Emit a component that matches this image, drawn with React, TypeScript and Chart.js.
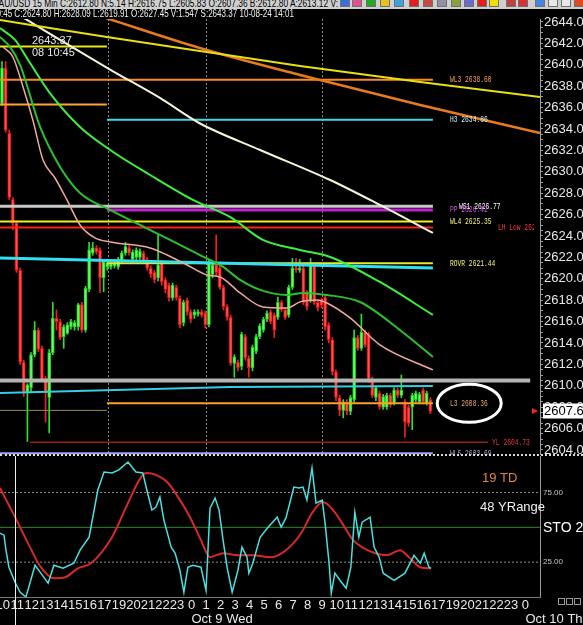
import React, { useEffect, useRef } from "react";
import { Chart, registerables } from "chart.js";

Chart.register(...registerables);

// ---------------- 15-minute XAU/USD bars (bar 0 = Oct 8, 10:00) ----------------
const barOpen = [
  2636.4, 2639.7, 2633.6, 2627.4, 2625.2, 2620.8, 2612.2, 2609.4, 2609.8, 2612.9,
  2615.2, 2613.5, 2610.7, 2608.9, 2613.1, 2616.3, 2616.0, 2614.6, 2614.9, 2615.5,
  2615.5, 2615.5, 2617.6, 2615.2, 2619.0, 2622.4, 2622.9, 2622.7, 2620.1, 2621.1,
  2621.1, 2621.2, 2621.1, 2621.6, 2622.4, 2622.9, 2621.8, 2622.0, 2622.0, 2622.4,
  2621.8, 2621.0, 2620.6, 2620.1, 2621.5, 2619.9, 2619.4, 2618.2, 2619.2, 2618.2,
  2615.9, 2618.0, 2616.9, 2616.6, 2616.7, 2616.9, 2616.8, 2615.7, 2620.4, 2621.3,
  2621.0, 2619.2, 2617.4, 2616.4, 2612.1, 2612.2, 2611.8, 2614.6, 2612.6, 2611.7,
  2613.2, 2614.6, 2615.2, 2616.2, 2616.9, 2616.6, 2616.4, 2617.8, 2617.1, 2616.6,
  2619.2, 2621.0, 2620.8, 2621.0, 2618.7, 2618.0, 2621.3, 2617.8, 2618.0, 2618.3,
  2615.7, 2614.3, 2611.3, 2608.9, 2607.7, 2608.5, 2607.6, 2608.7, 2614.5, 2613.5,
  2615.0, 2614.8, 2610.6, 2608.9, 2609.3, 2608.0, 2608.0, 2609.1, 2608.4, 2609.6,
  2609.1, 2608.5, 2608.0, 2608.0, 2608.7, 2608.5, 2609.6, 2608.4, 2608.7,
];
const barClose = [
  2639.7, 2633.9, 2627.6, 2625.2, 2620.8, 2612.2, 2609.4, 2610.1, 2612.9, 2615.2,
  2613.4, 2610.6, 2609.3, 2613.1, 2616.3, 2616.0, 2614.5, 2615.5, 2615.7, 2616.0,
  2615.9, 2617.6, 2615.2, 2619.1, 2622.7, 2622.9, 2622.5, 2620.1, 2621.6, 2621.5,
  2621.4, 2621.5, 2621.8, 2622.4, 2623.0, 2622.4, 2622.5, 2622.7, 2622.6, 2621.6,
  2621.0, 2620.4, 2619.9, 2621.3, 2619.7, 2619.0, 2618.2, 2619.4, 2618.2, 2615.7,
  2617.8, 2616.9, 2616.2, 2616.9, 2616.9, 2616.6, 2615.7, 2621.5, 2621.3, 2620.6,
  2619.2, 2617.4, 2616.4, 2612.1, 2612.7, 2611.7, 2614.8, 2612.6, 2611.7, 2613.6,
  2614.6, 2615.6, 2616.2, 2616.8, 2616.0, 2615.2, 2617.8, 2617.1, 2616.4, 2619.2,
  2621.0, 2620.8, 2621.0, 2617.8, 2617.4, 2621.3, 2617.8, 2617.3, 2617.5, 2615.5,
  2614.3, 2611.3, 2608.9, 2607.7, 2608.5, 2607.6, 2608.9, 2614.5, 2613.5, 2615.0,
  2613.8, 2610.6, 2609.1, 2609.8, 2608.0, 2609.0, 2609.1, 2608.2, 2609.6, 2609.1,
  2609.6, 2606.6, 2606.5, 2609.1, 2609.3, 2609.2, 2608.5, 2609.3, 2607.6,
];
const barHigh = [
  2640.3, 2640.3, 2633.9, 2627.6, 2625.4, 2621.0, 2612.4, 2610.2, 2613.1, 2616.0,
  2615.4, 2613.7, 2610.9, 2613.4, 2617.8, 2617.1, 2616.2, 2615.7, 2615.9, 2616.2,
  2616.1, 2617.7, 2617.8, 2619.3, 2623.4, 2623.4, 2623.1, 2622.9, 2621.8, 2621.8,
  2621.7, 2621.8, 2622.0, 2622.6, 2623.4, 2623.1, 2622.7, 2622.9, 2622.8, 2622.6,
  2622.0, 2621.2, 2620.8, 2624.1, 2621.7, 2620.1, 2619.6, 2619.6, 2619.4, 2618.4,
  2618.0, 2618.2, 2617.1, 2617.1, 2617.1, 2617.1, 2617.0, 2621.8, 2621.5, 2624.1,
  2621.2, 2619.4, 2617.6, 2616.6, 2612.9, 2612.4, 2615.0, 2614.8, 2612.8, 2613.8,
  2614.8, 2615.8, 2616.4, 2617.0, 2617.1, 2616.8, 2618.3, 2618.0, 2617.3, 2619.4,
  2621.9, 2621.9, 2621.8, 2621.2, 2618.9, 2621.9, 2621.5, 2618.0, 2618.2, 2618.5,
  2615.9, 2614.5, 2611.5, 2609.1, 2608.7, 2608.7, 2609.1, 2615.2, 2614.7, 2616.7,
  2615.2, 2615.0, 2610.8, 2610.0, 2609.5, 2609.2, 2609.3, 2609.3, 2609.8, 2609.8,
  2611.0, 2608.7, 2608.2, 2609.3, 2609.5, 2609.4, 2609.8, 2609.5, 2608.9,
];
const barLow = [
  2636.2, 2633.7, 2627.4, 2624.6, 2620.6, 2612.0, 2609.0, 2604.8, 2609.4, 2612.7,
  2613.2, 2610.4, 2606.6, 2605.6, 2612.9, 2615.2, 2614.3, 2613.5, 2614.8, 2615.3,
  2615.2, 2615.2, 2615.0, 2615.0, 2618.8, 2622.2, 2622.3, 2618.7, 2618.8, 2620.8,
  2620.9, 2621.0, 2620.9, 2621.4, 2622.2, 2622.2, 2621.5, 2621.8, 2621.8, 2621.4,
  2620.8, 2620.1, 2619.6, 2619.8, 2619.4, 2618.7, 2617.9, 2618.0, 2618.0, 2615.4,
  2615.6, 2616.6, 2615.9, 2616.3, 2616.5, 2616.4, 2615.4, 2615.5, 2620.1, 2620.3,
  2619.0, 2617.1, 2616.1, 2611.9, 2610.8, 2611.4, 2611.5, 2612.4, 2610.8, 2611.4,
  2613.0, 2614.4, 2615.0, 2616.0, 2615.8, 2614.5, 2616.2, 2616.9, 2616.2, 2616.4,
  2619.0, 2620.6, 2620.6, 2617.6, 2617.1, 2617.8, 2617.6, 2617.0, 2617.3, 2615.2,
  2614.0, 2611.0, 2608.6, 2607.2, 2607.0, 2607.3, 2607.3, 2608.5, 2613.3, 2613.3,
  2613.6, 2610.3, 2608.9, 2608.6, 2607.8, 2607.8, 2607.8, 2608.0, 2608.2, 2608.9,
  2608.9, 2605.2, 2606.2, 2605.9, 2608.5, 2608.3, 2608.3, 2608.2, 2607.4,
];
const lastPrice = 2607.64;

// ---------------- moving averages (bar index, value) ----------------
const maYellowBars = [-0.55, 28.9, 54.5, 82.1, 115.2, 148.2];
const maYellowVals = [2644.19, 2642.6, 2641.29, 2639.89, 2638.39, 2636.99];
const maOrangeBars = [28.4, 54.5, 82.1, 115.2, 148.2];
const maOrangeVals = [2644.4, 2641.57, 2639.05, 2636.24, 2633.63];
const maWhiteBars = [-0.55, 6.9, 16.0, 30.0, 43.5, 54.3, 71.1, 90.4, 104.1, 118.7];
const maWhiteVals = [2645.7, 2644.19, 2642.32, 2639.51, 2636.9, 2634.56, 2632.04, 2629.23, 2626.9, 2624.28];
const maGreenBars = [-0.55, 3.6, 7.2, 13.2, 21.5, 29.8, 40.8, 52.6, 62.8, 71.9, 82.1, 90.4, 104.1, 118.7];
const maGreenVals = [2643.44, 2642.32, 2640.45, 2637.36, 2634.19, 2632.04, 2629.7, 2627.37, 2625.78, 2623.63, 2622.69, 2622.04, 2619.7, 2616.62];
const maDarkGreenBars = [-0.55, 2.2, 5.0, 10.5, 16.0, 21.5, 29.8, 38.0, 46.3, 54.5, 60.9, 65.6, 71.1, 78.5, 82.9, 89.5, 98.6, 109.6, 118.7];
const maDarkGreenVals = [2642.6, 2641.67, 2639.98, 2634.19, 2630.45, 2628.02, 2626.43, 2625.03, 2623.63, 2622.22, 2621.11, 2619.89, 2618.96, 2618.49, 2618.68, 2618.49, 2617.83, 2615.22, 2612.69];
const maPinkBars = [0.3, 3.0, 5.8, 8.5, 11.3, 14.6, 17.9, 21.5, 25.6, 29.8, 40.8, 45.5, 51.0, 56.5, 60.1, 65.6, 71.9, 78.5, 82.1, 86.8, 89.5, 95.9, 104.1, 118.7];
const maPinkVals = [2641.67, 2640.73, 2637.93, 2634.84, 2631.1, 2629.42, 2627.37, 2625.03, 2623.82, 2623.44, 2622.88, 2622.22, 2621.29, 2620.36, 2620.17, 2618.68, 2617.37, 2617.27, 2617.84, 2618.02, 2617.74, 2616.34, 2613.82, 2611.48];

// ---------------- key levels ----------------
const levelNames = ["", "WL3 2638.60", "", "H3 2634.86", "WS1 2626.77", "PP 2626.42", "WL4 2625.35", "LH Low 2624.80", "ROVR 2621.44", "", "", "L3 2608.36", "YL 2604.73", "WL5 2603.69"];
const levelValues = [2641.7, 2638.6, 2636.3, 2634.86, 2626.77, 2626.42, 2625.35, 2624.8, 2621.44, 2610.5, 2607.7, 2608.36, 2604.73, 2603.69];
const levelFromBar = [-0.55, -0.55, -0.55, 28.9, -0.55, 28.9, -0.55, -0.55, 28.9, -0.55, -0.55, 28.9, 7.7, -0.55];
const levelToBar = [28.9, 118.7, 28.9, 118.7, 118.7, 118.7, 118.7, 118.7, 118.7, 145.5, 28.9, 118.7, 133.9, 118.7];
const levelLabelBar = [0, 123.4, 0, 123.4, 125.9, 123.4, 123.4, 136.6, 123.4, 0, 0, 123.4, 135.0, 123.4];

// ---------------- trend lines ----------------
const trendUpperBars = [-0.55, 118.7];
const trendUpperVals = [2621.95, 2621.0];
const trendLowerBars = [-0.55, 63.0, 118.7];
const trendLowerVals = [2609.33, 2609.89, 2609.98];

// ---------------- stochastic ----------------
const stoKBars = [-0.55, 0.55, 1.1, 1.9, 3.6, 5.0, 6.6, 9.1, 10.7, 12.7, 14.3, 16.8, 19.8, 21.5, 24.0, 26.4, 28.1, 30.3, 32.2, 34.7, 36.9, 38.8, 39.9, 41.3, 42.4, 43.5, 44.6, 46.6, 47.7, 49.0, 50.1, 51.2, 52.6, 54.8, 56.2, 57.3, 58.7, 59.8, 60.9, 62.0, 63.4, 65.0, 66.1, 67.5, 68.0, 69.1, 71.1, 73.3, 75.8, 76.9, 78.2, 80.4, 81.8, 82.9, 84.0, 85.4, 86.5, 88.2, 89.0, 90.1, 90.7, 91.7, 93.1, 94.8, 96.1, 97.2, 98.3, 99.2, 101.4, 102.5, 103.9, 105.0, 108.0, 111.0, 113.5, 115.2, 116.3, 117.6, 118.2];
const stoKVals = [45.8, 44.4, 33.6, 21.4, 10.6, 3.4, 0.0, 22.8, 17.1, 9.9, 22.8, 20.6, 24.2, 33.6, 42.9, 76.8, 89.7, 89.0, 91.2, 96.9, 89.7, 89.0, 76.8, 62.4, 64.5, 71.7, 55.2, 35.8, 31.4, 19.2, 3.4, 21.4, 22.8, 21.4, 4.8, 63.8, 71.0, 62.4, 40.8, 21.4, 3.4, 19.2, 35.8, 28.6, 17.1, 24.2, 42.9, 50.1, 57.3, 50.1, 56.6, 78.9, 78.2, 78.9, 69.6, 92.6, 67.4, 69.6, 53.0, 24.2, 2.7, 17.1, 12.0, 6.3, 21.4, 60.9, 42.9, 53.7, 57.3, 35.8, 28.6, 17.1, 12.0, 17.1, 29.9, 24.2, 31.4, 21.4, 20.6];
const stoDBars = [-0.55, 3.6, 7.7, 10.7, 14.3, 17.4, 20.9, 24.5, 30.3, 34.2, 38.3, 39.9, 42.4, 45.5, 48.5, 51.8, 54.8, 57.3, 60.9, 65.0, 69.1, 74.1, 78.2, 82.4, 85.4, 88.4, 91.2, 93.7, 96.7, 99.7, 102.8, 106.1, 109.6, 112.1, 115.2, 118.2];
const stoDVals = [78.2, 57.3, 35.8, 21.4, 13.4, 14.2, 20.6, 24.2, 42.9, 64.5, 86.1, 89.0, 87.6, 82.5, 71.7, 57.3, 40.8, 28.6, 31.4, 30.0, 30.0, 28.6, 33.6, 45.8, 60.2, 68.1, 62.4, 53.0, 40.8, 35.0, 31.4, 30.0, 33.6, 28.6, 21.4, 20.6];
const stoLevels = [75, 25];
const stoMid = 50;

// ---------------- time axis ----------------
const hourLabels = ["10", "11", "12", "13", "14", "15", "16", "17", "19", "20", "21", "22", "23", "0", "1", "2", "3", "4", "5", "6", "7", "8", "9", "10", "11", "12", "13", "14", "15", "16", "17", "19", "20", "21", "22", "23", "0"];
const firstHourBar = 0.2;
const barsPerHour = 4;
const dateLabels = ["Oct 9 Wed", "Oct 10 Thu"];
const dateHourIndex = [13, 36];
const sessionBars = [29.2, 56.2, 88.2];
const cursorBar = 3.6;

const X_MIN = -0.55;
const X_MAX = 148.2;
const PRICE_MIN = 2603.53;
const PRICE_MAX = 2644.28;
const STO_MAX = 101.2;

// ---------------- styles ----------------
const FONT = '"Liberation Sans", Arial, sans-serif';
const MONO = '"Liberation Mono", "DejaVu Sans Mono", monospace';
const LEVEL_STYLES = [
  { color: "#e6e619", width: 2, text: "#e6e619" },
  { color: "#ff8a20", width: 2, text: "#ffa050" },
  { color: "#ffa733", width: 2, text: "#ffa733" },
  { color: "#3fd8e0", width: 2, text: "#c8f4f4" },
  { color: "#c8c8c8", width: 3, text: "#ffffff" },
  { color: "#c020d0", width: 3, text: "#d050e0" },
  { color: "#f0f020", width: 2, text: "#f4f470" },
  { color: "#ff2020", width: 2, text: "#ff3a3a" },
  { color: "#e8e830", width: 2, text: "#f4f470" },
  { color: "#b4b4b4", width: 4, text: "#b4b4b4" },
  { color: "#9a8a5a", width: 1, text: "#9a8a5a" },
  { color: "#ffa020", width: 2, text: "#e8a868" },
  { color: "#9a2020", width: 1.5, text: "#e03a3a" },
  { color: "#a0a0ff", width: 2, text: "#a8a8d0" },
];
const TOOL_ICONS: [number, string][] = [
  [340, "#3b6fd6"], [352, "#e0508a"], [366, "#22aa22"], [380, "#e8c020"], [394, "#3fa0e0"],
  [409, "#e02020"], [423, "#c84848"], [437, "#9090a0"], [451, "#8aa040"], [464, "#6a6ad0"],
  [477, "#e02020"], [489, "#f0e000"], [506, "#c04040"], [518, "#d83030"], [535, "#4a84e0"],
  [548, "#e8e8e8"], [561, "#e8e8e8"], [574, "#e04a20"],
];

function narrowText(ctx: any, text: string, x: number, y: number, color: string, size: number, sx: number, family = MONO) {
  ctx.save();
  ctx.font = `${size}px ${family}`;
  ctx.fillStyle = color;
  ctx.textBaseline = "middle";
  ctx.textAlign = "left";
  ctx.translate(x, y);
  ctx.scale(sx, 1);
  ctx.fillText(text, 0, 0);
  ctx.restore();
}

const pts = (bars: number[], vals: number[]) => bars.map((b, k) => ({ x: b, y: vals[k] }));

const mainOverlay = {
  id: "mainOverlay",
  beforeDatasetsDraw(chart: any) {
    const { ctx, chartArea: a, scales } = chart;
    ctx.save();
    ctx.strokeStyle = "#8c8c8c";
    ctx.lineWidth = 1;
    ctx.setLineDash([2, 2]);
    sessionBars.forEach((b) => {
      const px = Math.round(scales.x.getPixelForValue(b)) + 0.5;
      ctx.beginPath();
      ctx.moveTo(px, a.top);
      ctx.lineTo(px, a.bottom);
      ctx.stroke();
    });
    ctx.restore();
  },
  afterDatasetsDraw(chart: any) {
    const { ctx, chartArea: a, scales } = chart;
    const x = scales.x;
    const y = scales.y;
    ctx.save();
    ctx.beginPath();
    ctx.rect(a.left, a.top, a.right - a.left - 6, a.bottom - a.top);
    ctx.clip();
    levelNames.forEach((name, k) => {
      if (!name) return;
      narrowText(ctx, name, x.getPixelForValue(levelLabelBar[k]), y.getPixelForValue(levelValues[k]), LEVEL_STYLES[k].text, 9, 0.7);
    });
    ctx.restore();

    // ellipse around L3
    ctx.save();
    ctx.strokeStyle = "#ffffff";
    ctx.lineWidth = 3;
    ctx.beginPath();
    ctx.ellipse(x.getPixelForValue(128.7), y.getPixelForValue(2608.36), 32, 19, 0, 0, Math.PI * 2);
    ctx.stroke();
    ctx.restore();

    // cursor readout
    ctx.save();
    ctx.font = `11px ${FONT}`;
    ctx.fillStyle = "#e8e8e8";
    ctx.textBaseline = "middle";
    ctx.fillText("2643.37", a.left + 32, a.top + 22);
    ctx.fillText("08 10:45", a.left + 32, a.top + 34);
    ctx.restore();

    // last price arrow
    const py = y.getPixelForValue(lastPrice);
    ctx.save();
    ctx.fillStyle = "#ff2020";
    ctx.beginPath();
    ctx.moveTo(a.right - 8, py - 3);
    ctx.lineTo(a.right - 8, py + 3);
    ctx.lineTo(a.right - 2, py);
    ctx.closePath();
    ctx.fill();
    ctx.restore();
  },
  afterDraw(chart: any) {
    const { ctx, chartArea: a, scales } = chart;
    const py = scales.y.getPixelForValue(lastPrice);
    ctx.save();
    ctx.fillStyle = "#ffffff";
    ctx.fillRect(a.right + 3, py - 7.5, 50, 15);
    ctx.fillStyle = "#000000";
    ctx.font = `13px ${FONT}`;
    ctx.textBaseline = "middle";
    ctx.fillText(lastPrice.toFixed(2), a.right + 4, py + 0.5);
    ctx.restore();
  },
};

const stoOverlay = {
  id: "stoOverlay",
  afterDatasetsDraw(chart: any) {
    const { ctx, chartArea: a, scales } = chart;
    const x = scales.x;
    const y = scales.y;
    ctx.save();
    ctx.strokeStyle = "#7a7a7a";
    ctx.lineWidth = 1;
    ctx.beginPath();
    ctx.moveTo(a.left, Math.round(a.bottom) + 0.5);
    ctx.lineTo(a.right + 1, Math.round(a.bottom) + 0.5);
    ctx.stroke();

    const cx = Math.round(x.getPixelForValue(cursorBar)) + 0.5;
    ctx.strokeStyle = "#f0f0f0";
    ctx.beginPath();
    ctx.moveTo(cx, 0);
    ctx.lineTo(cx, chart.height);
    ctx.stroke();

    ctx.textBaseline = "middle";
    ctx.font = `13px ${FONT}`;
    ctx.fillStyle = "#e0863a";
    ctx.fillText("19 TD", 482, 22);
    ctx.fillStyle = "#f0f0f0";
    ctx.fillText("48 YRange", 480, 51);

    ctx.font = `8px ${FONT}`;
    ctx.fillStyle = "#c8c8c8";
    stoLevels.forEach((v) => ctx.fillText(v.toFixed(2), a.right + 3, y.getPixelForValue(v)));
    ctx.font = `14px ${FONT}`;
    ctx.fillStyle = "#ffffff";
    ctx.fillText("STO 2", a.right + 3, y.getPixelForValue(stoMid) + 1);

    ctx.font = `13px ${FONT}`;
    ctx.fillStyle = "#e8e8e8";
    ctx.textAlign = "center";
    hourLabels.forEach((lab, k) => {
      ctx.fillText(lab, x.getPixelForValue(firstHourBar + barsPerHour * k), a.bottom + 8);
    });
    ctx.textAlign = "left";
    dateLabels.forEach((lab, k) => {
      ctx.fillText(lab, x.getPixelForValue(firstHourBar + barsPerHour * dateHourIndex[k]), a.bottom + 22);
    });

    ctx.strokeStyle = "#9a9a9a";
    [558, 566, 574].forEach((sx) => ctx.strokeRect(sx + 0.5, a.bottom + 1.5, 6, 6));
    ctx.restore();
  },
};

function mainConfig(): any {
  const idx = barOpen.map((_, i) => i);
  const up = idx.map((i) => barClose[i] >= barOpen[i]);
  const line = (data: any[], color: string, width: number, order: number, extra: any = {}) => ({
    type: "line",
    data,
    borderColor: color,
    borderWidth: width,
    pointRadius: 0,
    fill: false,
    order,
    ...extra,
  });
  const datasets: any[] = [
    {
      type: "bar",
      data: idx.map((i) => ({ x: i, y: [barLow[i], barHigh[i]] })),
      backgroundColor: up.map((u) => (u ? "#2ee02e" : "#f02020")),
      barThickness: 1,
      grouped: false,
      order: 30,
    },
    {
      type: "bar",
      data: idx.map((i) => ({ x: i, y: [barOpen[i], barClose[i]] })),
      backgroundColor: up.map((u) => (u ? "#60ff60" : "#ff5050")),
      borderColor: up.map((u) => (u ? "#22d022" : "#e81010")),
      borderWidth: 1,
      borderSkipped: false,
      barThickness: 3,
      minBarLength: 1,
      grouped: false,
      order: 29,
    },
  ];
  levelValues.forEach((v, k) => {
    datasets.push(
      line(
        [
          { x: levelFromBar[k], y: v },
          { x: levelToBar[k], y: v },
        ],
        LEVEL_STYLES[k].color,
        LEVEL_STYLES[k].width,
        20
      )
    );
  });
  datasets.push(line(pts(trendUpperBars, trendUpperVals), "#30e0f0", 3, 19));
  datasets.push(line(pts(trendLowerBars, trendLowerVals), "#30d0e0", 2, 19));
  const smooth = { cubicInterpolationMode: "monotone" };
  datasets.push(line(pts(maPinkBars, maPinkVals), "#f0a8a0", 1.5, 9, smooth));
  datasets.push(line(pts(maDarkGreenBars, maDarkGreenVals), "#2cc02c", 2, 8, smooth));
  datasets.push(line(pts(maGreenBars, maGreenVals), "#3cf03c", 2, 7, smooth));
  datasets.push(line(pts(maWhiteBars, maWhiteVals), "#f4f4d8", 2, 6, smooth));
  datasets.push(line(pts(maOrangeBars, maOrangeVals), "#e87a20", 2.5, 5, smooth));
  datasets.push(line(pts(maYellowBars, maYellowVals), "#e8e010", 2, 4, smooth));

  return {
    type: "line",
    data: { datasets },
    options: {
      responsive: false,
      animation: false,
      events: [],
      layout: { padding: { top: 10, left: 0, right: 0, bottom: 0 } },
      plugins: { legend: { display: false }, tooltip: { enabled: false } },
      scales: {
        x: { type: "linear", display: false, min: X_MIN, max: X_MAX, offset: false },
        y: {
          type: "linear",
          position: "right",
          min: PRICE_MIN,
          max: PRICE_MAX,
          beginAtZero: false,
          afterFit: (s: any) => {
            s.width = 43;
            s.paddingTop = 0;
            s.paddingBottom = 0;
          },
          afterBuildTicks: (s: any) => {
            const t: any[] = [];
            for (let v = 2604; v <= 2644.001; v += 0.5) t.push({ value: Math.round(v * 10) / 10 });
            s.ticks = t;
          },
          ticks: {
            autoSkip: false,
            color: "#e6e6e6",
            padding: 1,
            font: { family: FONT, size: 13 },
            callback: (v: number) => (Math.abs(v % 2) < 1e-6 ? v.toFixed(2) : ""),
          },
          grid: { display: true, drawOnChartArea: false, drawTicks: true, tickLength: 3, color: "#9a9a9a" },
          border: { display: true, color: "#a0a0a0", width: 1 },
        },
      },
    },
    plugins: [mainOverlay],
  };
}

function stoConfig(): any {
  const flat = (v: number) => [
    { x: X_MIN, y: v },
    { x: X_MAX, y: v },
  ];
  const datasets: any[] = [
    ...stoLevels.map((v) => ({
      type: "line",
      data: flat(v),
      borderColor: "#8c8c8c",
      borderWidth: 1,
      borderDash: [2, 2],
      pointRadius: 0,
      order: 10,
    })),
    { type: "line", data: flat(stoMid), borderColor: "#2e8b2e", borderWidth: 1, pointRadius: 0, order: 9 },
    {
      type: "line",
      data: pts(stoDBars, stoDVals),
      borderColor: "#d82828",
      borderWidth: 2,
      pointRadius: 0,
      cubicInterpolationMode: "monotone",
      order: 3,
    },
    { type: "line", data: pts(stoKBars, stoKVals), borderColor: "#48e0e0", borderWidth: 1.5, pointRadius: 0, order: 2 },
  ];
  return {
    type: "line",
    data: { datasets },
    options: {
      responsive: false,
      animation: false,
      events: [],
      layout: { padding: { top: 0, left: 0, right: 0, bottom: 28 } },
      plugins: { legend: { display: false }, tooltip: { enabled: false } },
      scales: {
        x: { type: "linear", display: false, min: X_MIN, max: X_MAX, offset: false },
        y: {
          type: "linear",
          position: "right",
          min: 0,
          max: STO_MAX,
          afterFit: (s: any) => {
            s.width = 43;
            s.paddingTop = 0;
            s.paddingBottom = 0;
          },
          ticks: { display: false },
          grid: { display: true, drawOnChartArea: false, drawTicks: false },
          border: { display: true, color: "#9a9a9a", width: 1 },
        },
      },
    },
    plugins: [stoOverlay],
  };
}

export default function App() {
  const mainRef = useRef<HTMLCanvasElement>(null);
  const stoRef = useRef<HTMLCanvasElement>(null);
  const h1Ref = useRef<HTMLSpanElement>(null);
  const h2Ref = useRef<HTMLSpanElement>(null);

  useEffect(() => {
    document.body.style.margin = "0";
    document.body.style.background = "#000";
    const fit = (el: HTMLElement | null, w: number) => {
      if (!el) return;
      el.style.transform = "none";
      const r = el.getBoundingClientRect().width;
      if (r > 0) el.style.transform = `scaleX(${w / r})`;
    };
    fit(h1Ref.current, 345);
    fit(h2Ref.current, 302);
    const c1 = new Chart(mainRef.current as HTMLCanvasElement, mainConfig());
    const c2 = new Chart(stoRef.current as HTMLCanvasElement, stoConfig());
    return () => {
      c1.destroy();
      c2.destroy();
    };
  }, []);

  return (
    <div
      style={{
        position: "absolute",
        left: 0,
        top: 0,
        width: 583,
        height: 625,
        background: "#000",
        overflow: "hidden",
        fontFamily: FONT,
      }}
    >
      <canvas ref={mainRef} width={583} height={446} style={{ position: "absolute", left: 0, top: 9 }} />
      <canvas ref={stoRef} width={583} height={169} style={{ position: "absolute", left: 0, top: 456 }} />
      <div
        style={{
          position: "absolute",
          left: 0,
          top: 0,
          width: 583,
          height: 9,
          background: "#cfcfcf",
          overflow: "hidden",
        }}
      >
        <span
          ref={h1Ref}
          style={{
            position: "absolute",
            left: -7,
            top: -2,
            fontSize: 11,
            lineHeight: "11px",
            color: "#000",
            whiteSpace: "nowrap",
            display: "inline-block",
            transformOrigin: "0 0",
          }}
        >
          XAU/USD 15 Min C:2612.80 N:5.14 H:2616.75 L:2605.83 O:2607.36 B:2612.80 A:2613.12 V:
        </span>
        {TOOL_ICONS.map(([left, color], k) => (
          <div
            key={k}
            style={{
              position: "absolute",
              left,
              top: -3,
              width: 10,
              height: 10,
              background: color,
              border: "1px solid #707070",
              boxSizing: "border-box",
            }}
          />
        ))}
      </div>
      <span
        ref={h2Ref}
        style={{
          position: "absolute",
          left: -8,
          top: 8,
          fontSize: 11,
          lineHeight: "11px",
          color: "#f0f0f0",
          whiteSpace: "nowrap",
          display: "inline-block",
          transformOrigin: "0 0",
        }}
      >
        10:45 C:2624.80 H:2628.09 L:2619.91 O:2627.45 V:1.547 S:2643.37 10-08-24 14:01
      </span>
      <div
        style={{
          position: "absolute",
          left: 0,
          top: 454,
          width: 583,
          height: 0,
          borderTop: "2px dotted #d8d8d8",
        }}
      />
    </div>
  );
}
